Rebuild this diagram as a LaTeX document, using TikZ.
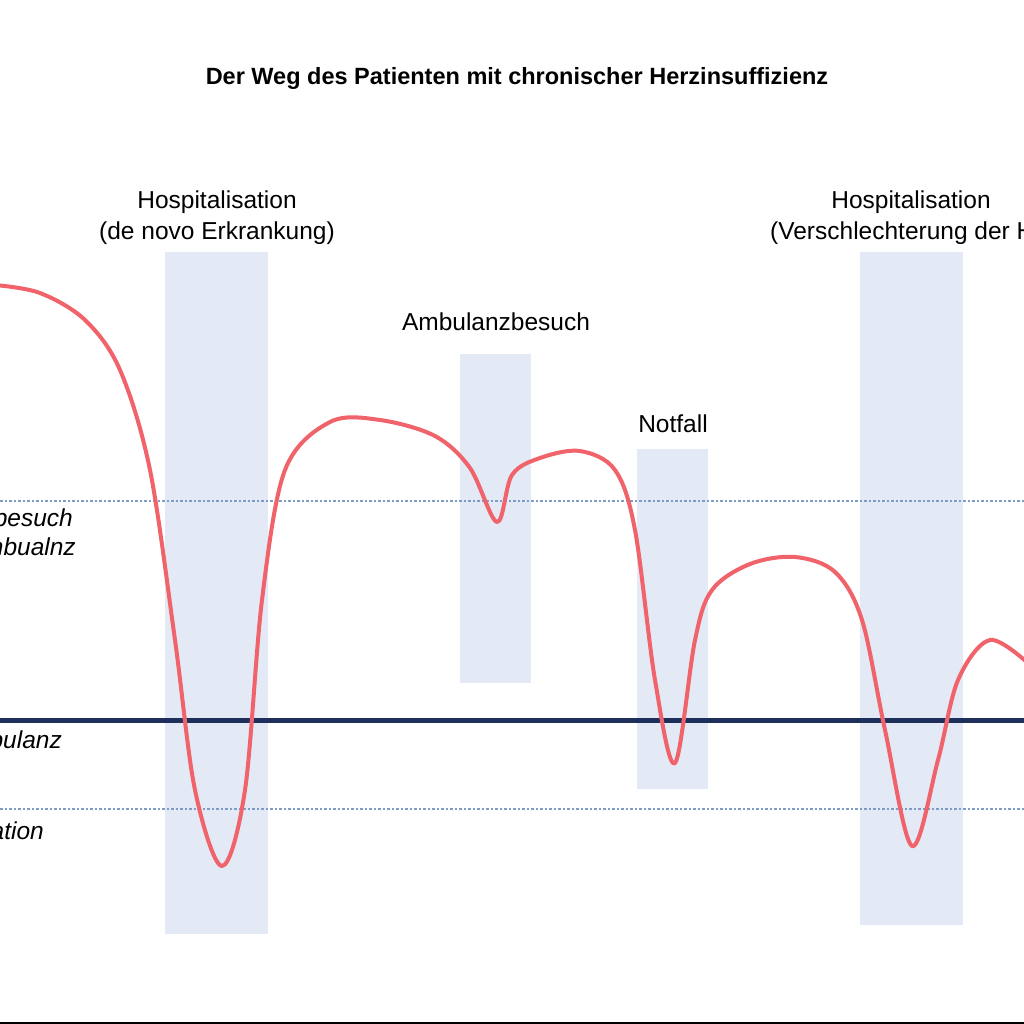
\documentclass[tikz,border=0pt]{standalone}
\usepackage{fontspec}
\setmainfont{Liberation Sans}
\begin{document}
\begin{tikzpicture}[x=1pt,y=-1pt,
  bar/.style={fill=barblue,draw=none},
  lbl/.style={font=\fontsize{24.5}{28}\selectfont,text=black,inner sep=0},
  side/.style={font=\fontsize{24.5}{28}\selectfont\itshape,inner sep=0,anchor=base east},
  ref/.style={draw=dotblue,line width=2.5pt,dotted}]
\definecolor{barblue}{HTML}{E3E9F5}
\definecolor{dotblue}{HTML}{7F9CC8}
\definecolor{navy}{HTML}{1F2F5C}
\definecolor{curvered}{HTML}{F0636A}
\useasboundingbox (0,0) rectangle (1024,1024);
\clip (0,0) rectangle (1024,1024);
\fill[white] (0,0) rectangle (1024,1024);
\draw[black,line width=2pt] (0,1023) -- (1024,1023);
\node[font=\fontsize{23.5}{28}\selectfont\bfseries] (title) at (517,78) {Der Weg des Patienten mit chronischer Herzinsuffizienz};
\fill[bar] (165,252) rectangle (268,934);
\fill[bar] (460,354) rectangle (531,683);
\fill[bar] (637,449) rectangle (708,789);
\fill[bar] (860,252) rectangle (963,925);
\draw[ref] (0,501) -- (1024,501);
\draw[ref] (0,809) -- (1024,809);
\draw[navy,line width=5pt] (0,720) -- (1024,720);
\node[lbl] (h1) at (217,202) {Hospitalisation};
\node[lbl] (h1b) at (217,233) {(de novo Erkrankung)};
\node[lbl] (amb) at (496,322) {Ambulanzbesuch};
\node[lbl] (not) at (673,424) {Notfall};
\node[lbl] (h2) at (911,202) {Hospitalisation};
\node[lbl,anchor=west] (h2b) at (770,233) {(Verschlechterung der Herzinsuffizienz)};
\node[side] (s1) at (73,526) {Ambulanzbesuch};
\node[side] (s2) at (76,555) {in der Ambualnz};
\node[side] (s3) at (62,748) {Ambulanz};
\node[side] (s4) at (44,839) {Hospitalisation};
\draw[curvered,line width=4pt,line cap=round,line join=round]
 plot[smooth,tension=0.55] coordinates {
 (-5,285) (40,293) (85,320) (120,370) (150,470) (175,640) (195,790) (222,866)
 (245,790) (262,600) (285,470) (330,422) (380,420) (435,436) (470,468) (497,522)
 (512,475) (540,458) (580,451) (615,470) (635,530) (655,680) (675,763)
 (695,640) (712,590) (750,564) (795,557) (835,572) (862,620) (885,730) (912,846)
 (938,760) (958,680) (990,640) (1030,665)};
\end{tikzpicture}
\end{document}
